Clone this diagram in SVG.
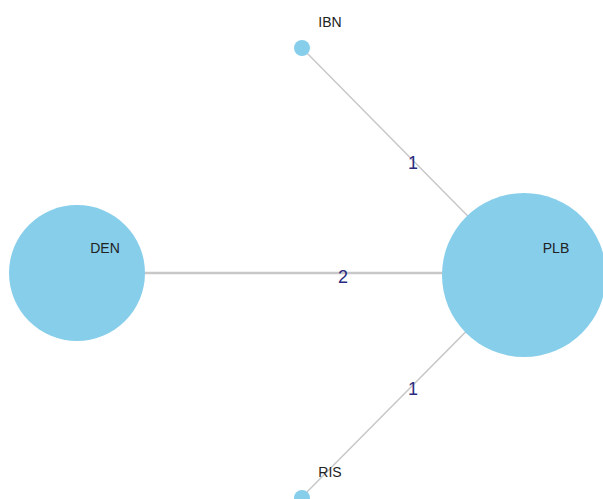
<svg xmlns="http://www.w3.org/2000/svg" width="603" height="499" viewBox="0 0 603 499">
  <style>
    .edge { stroke: #c8c8c8; fill: none; }
    .node { fill: #87ceeb; }
    .nlabel { font-family: "Liberation Sans", Arial, sans-serif; font-size: 14px; fill: #222; text-anchor: middle; }
    .elabel { font-family: "Liberation Sans", Arial, sans-serif; font-size: 18px; fill: #2b2b80; text-anchor: middle; }
  </style>
  <rect width="603" height="499" fill="#ffffff"/>
  <g id="edges">
    <line class="edge" x1="302" y1="48" x2="524" y2="273" stroke-width="1.5"/>
    <line class="edge" x1="77" y1="273" x2="524" y2="273" stroke-width="2.5"/>
    <line class="edge" x1="302" y1="497" x2="524" y2="273" stroke-width="1.5"/>
    <text class="elabel" x="413" y="169">1</text>
    <text class="elabel" x="343" y="283">2</text>
    <text class="elabel" x="413" y="395">1</text>
  </g>
  <g id="node-IBN">
    <circle class="node" cx="302" cy="48" r="8"/>
    <text class="nlabel" x="330" y="27">IBN</text>
  </g>
  <g id="node-DEN">
    <circle class="node" cx="77" cy="273" r="68"/>
    <text class="nlabel" x="105" y="253">DEN</text>
  </g>
  <g id="node-PLB">
    <circle class="node" cx="524" cy="275" r="82"/>
    <text class="nlabel" x="556" y="253">PLB</text>
  </g>
  <g id="node-RIS">
    <circle class="node" cx="302" cy="498" r="8"/>
    <text class="nlabel" x="330" y="477">RIS</text>
  </g>
</svg>
